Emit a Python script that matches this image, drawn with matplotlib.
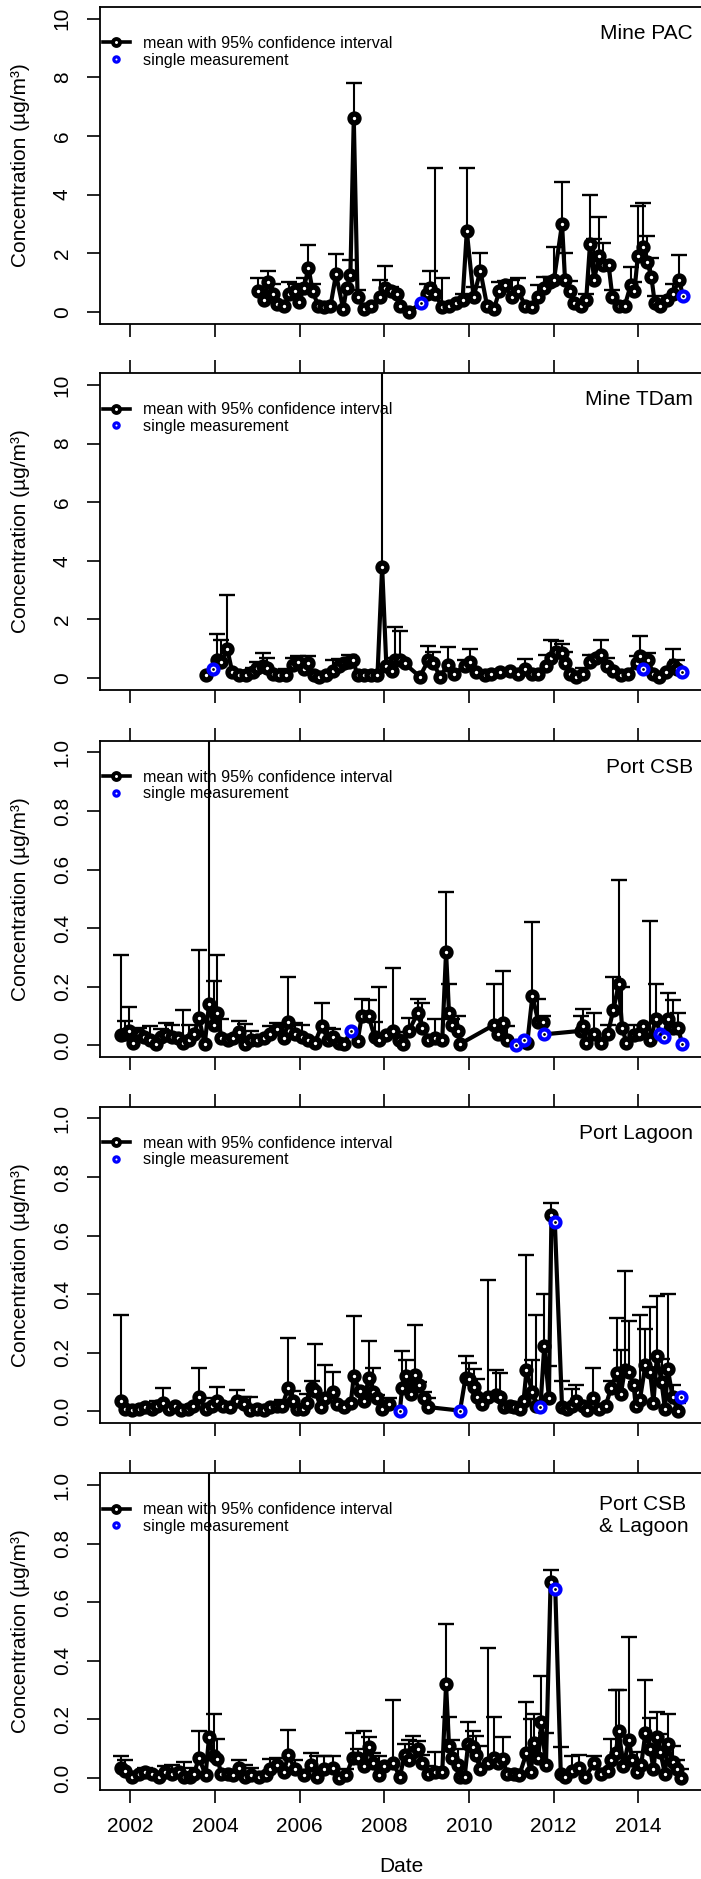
import numpy as np
import matplotlib
matplotlib.use("Agg")
import matplotlib.pyplot as plt
from matplotlib.lines import Line2D

plt.rcParams['font.family'] = ['Liberation Sans', 'DejaVu Sans']
nan = float('nan')

# ---------------- data ----------------
panel_titles = ["Mine PAC", "Mine TDam", "Port CSB", "Port Lagoon", "Port CSB\n& Lagoon"]
year_ticks = [2002, 2004, 2006, 2008, 2010, 2012, 2014]
big_ticks = [0, 2, 4, 6, 8, 10]
small_ticks = [0.0, 0.2, 0.4, 0.6, 0.8, 1.0]

pac_date = [2005.02, 2005.15, 2005.26, 2005.38, 2005.47, 2005.63, 2005.76, 2005.89, 2005.99, 2006.10,
            2006.21, 2006.31, 2006.44, 2006.58, 2006.73, 2006.86, 2007.03, 2007.11, 2007.20, 2007.28,
            2007.37, 2007.53, 2007.68, 2007.90, 2008.02, 2008.16, 2008.30, 2008.37, 2008.58, 2008.87,
            2009.00, 2009.08, 2009.21, 2009.37, 2009.53, 2009.69, 2009.85, 2009.95, 2010.11, 2010.27,
            2010.43, 2010.59, 2010.72, 2010.85, 2011.01, 2011.17, 2011.33, 2011.48, 2011.64, 2011.78,
            2011.91, 2012.01, 2012.20, 2012.27, 2012.38, 2012.49, 2012.65, 2012.77, 2012.86, 2012.96,
            2013.07, 2013.17, 2013.30, 2013.39, 2013.54, 2013.68, 2013.82, 2013.91, 2013.99, 2014.12,
            2014.21, 2014.31, 2014.39, 2014.52, 2014.67, 2014.81, 2014.97, 2015.05]
pac_mean = [0.7, 0.4, 1.0, 0.6, 0.25, 0.2, 0.6, 0.7, 0.35, 0.8,
            1.5, 0.7, 0.2, 0.15, 0.2, 1.28, 0.1, 0.8, 1.25, 6.6,
            0.5, 0.1, 0.2, 0.5, 0.8, 0.7, 0.6, 0.2, 0.0, 0.3,
            0.6, 0.8, 0.6, 0.15, 0.2, 0.3, 0.4, 2.75, 0.5, 1.4,
            0.2, 0.1, 0.7, 0.9, 0.5, 0.7, 0.2, 0.15, 0.5, 0.8,
            1.0, 1.1, 3.0, 1.1, 0.7, 0.3, 0.2, 0.4, 2.3, 1.1,
            1.9, 1.6, 1.6, 0.5, 0.2, 0.2, 0.9, 0.7, 1.9, 2.2,
            1.7, 1.2, 0.3, 0.2, 0.4, 0.6, 1.1, 0.55]
pac_upper = [1.15, nan, 1.4, 0.95, nan, nan, 1.0, 0.95, nan, 1.15,
             2.27, 0.95, nan, nan, nan, 1.97, nan, nan, 1.75, 7.8,
             0.75, nan, nan, 1.1, 1.55, 0.85, nan, nan, nan, nan,
             0.95, 1.4, 4.9, 1.15, nan, nan, 0.6, 4.92, 0.85, 2.0,
             nan, nan, 1.0, 1.05, 1.1, 1.15, nan, nan, 0.9, 1.2,
             1.2, 2.2, 4.42, 2.0, 1.05, nan, nan, 0.6, 3.98, 2.5,
             3.23, 2.35, nan, 0.75, nan, nan, 1.52, 1.0, 3.6, 3.7,
             2.6, 1.85, 0.55, nan, nan, 0.95, 1.95, nan]
pac_single = [2008.87, 2015.05]

tdam_date = [2003.80, 2003.95, 2004.06, 2004.15, 2004.29, 2004.41, 2004.57, 2004.73, 2004.89, 2004.99,
             2005.13, 2005.24, 2005.38, 2005.52, 2005.68, 2005.84, 2005.97, 2006.10, 2006.21, 2006.33,
             2006.47, 2006.63, 2006.79, 2006.92, 2007.05, 2007.16, 2007.26, 2007.37, 2007.53, 2007.68,
             2007.84, 2007.95, 2008.05, 2008.19, 2008.26, 2008.37, 2008.48, 2008.84, 2009.04, 2009.16,
             2009.32, 2009.50, 2009.64, 2009.90, 2010.03, 2010.16, 2010.38, 2010.53, 2010.74, 2010.96,
             2011.17, 2011.33, 2011.48, 2011.64, 2011.82, 2011.94, 2012.06, 2012.20, 2012.27, 2012.38,
             2012.54, 2012.70, 2012.86, 2013.01, 2013.12, 2013.26, 2013.41, 2013.60, 2013.75, 2013.96,
             2014.04, 2014.12, 2014.23, 2014.36, 2014.50, 2014.65, 2014.81, 2014.91, 2015.04]
tdam_mean = [0.1, 0.3, 0.6, 0.55, 1.0, 0.2, 0.1, 0.1, 0.2, 0.35,
             0.4, 0.35, 0.15, 0.1, 0.1, 0.45, 0.55, 0.3, 0.5, 0.1,
             0.05, 0.1, 0.25, 0.4, 0.5, 0.55, 0.6, 0.1, 0.1, 0.1,
             0.1, 3.8, 0.4, 0.25, 0.6, 0.6, 0.5, 0.05, 0.6, 0.5,
             0.05, 0.45, 0.15, 0.4, 0.55, 0.2, 0.1, 0.15, 0.2, 0.25,
             0.15, 0.3, 0.15, 0.15, 0.4, 0.7, 0.9, 0.85, 0.5, 0.15,
             0.05, 0.15, 0.55, 0.7, 0.8, 0.4, 0.25, 0.1, 0.15, 0.5,
             0.75, 0.3, 0.6, 0.15, 0.05, 0.2, 0.45, 0.3, 0.2]
tdam_upper = [nan, nan, 1.5, 1.3, 2.85, nan, nan, nan, 0.35, 0.55,
              0.85, 0.7, nan, nan, 0.3, 0.7, 0.75, nan, 0.75, nan,
              nan, nan, 0.6, 0.65, nan, 0.8, nan, nan, nan, nan,
              nan, 12.0, nan, 0.7, 1.75, 1.6, nan, nan, 1.1, 0.9,
              nan, 1.05, nan, 0.6, 1.0, nan, nan, nan, nan, nan,
              nan, 0.65, nan, nan, 0.8, 1.3, 1.25, 1.15, 0.9, nan,
              nan, 0.35, 0.8, 0.8, 1.3, 0.7, nan, nan, nan, 0.75,
              1.45, nan, 0.85, nan, nan, nan, 1.0, 0.6, nan]
tdam_single = [2003.95, 2014.12, 2015.04]

csb_date = [2001.77, 2001.88, 2001.98, 2002.07, 2002.20, 2002.32, 2002.46, 2002.60, 2002.72, 2002.85,
            2002.99, 2003.12, 2003.25, 2003.38, 2003.51, 2003.62, 2003.76, 2003.86, 2003.97, 2004.06,
            2004.15, 2004.31, 2004.43, 2004.57, 2004.71, 2004.86, 2004.99, 2005.15, 2005.31, 2005.47,
            2005.63, 2005.73, 2005.89, 2006.05, 2006.21, 2006.36, 2006.52, 2006.68, 2006.79, 2006.94,
            2007.05, 2007.21, 2007.37, 2007.47, 2007.63, 2007.77, 2007.87, 2008.05, 2008.21, 2008.35,
            2008.45, 2008.58, 2008.79, 2008.90, 2009.04, 2009.21, 2009.37, 2009.46, 2009.53, 2009.61,
            2009.74, 2009.79, 2010.59, 2010.69, 2010.80, 2010.90, 2011.11, 2011.29, 2011.38, 2011.50,
            2011.64, 2011.75, 2011.78, 2012.65, 2012.70, 2012.77, 2012.96, 2013.12, 2013.28, 2013.41,
            2013.54, 2013.62, 2013.72, 2013.89, 2014.01, 2014.12, 2014.28, 2014.42, 2014.52, 2014.60,
            2014.70, 2014.81, 2014.94, 2015.04]
csb_mean = [0.035, 0.04, 0.05, 0.01, 0.04, 0.03, 0.02, 0.005, 0.03, 0.035,
            0.03, 0.025, 0.01, 0.02, 0.04, 0.095, 0.005, 0.14, 0.07, 0.11,
            0.025, 0.02, 0.025, 0.045, 0.005, 0.02, 0.02, 0.025, 0.04, 0.055,
            0.025, 0.08, 0.04, 0.03, 0.02, 0.01, 0.065, 0.02, 0.03, 0.01,
            0.005, 0.05, 0.015, 0.1, 0.1, 0.03, 0.02, 0.035, 0.05, 0.02,
            0.005, 0.05, 0.11, 0.06, 0.02, 0.025, 0.02, 0.32, 0.11, 0.07,
            0.05, 0.005, 0.07, 0.04, 0.075, 0.02, 0.003, 0.02, 0.01, 0.17,
            0.08, 0.08, 0.038, 0.05, 0.065, 0.01, 0.04, 0.01, 0.04, 0.12,
            0.21, 0.06, 0.01, 0.035, 0.04, 0.065, 0.02, 0.09, 0.04, 0.03,
            0.09, 0.06, 0.06, 0.005]
csb_upper = [0.31, 0.085, 0.13, nan, 0.06, nan, 0.065, nan, 0.055, 0.075,
             0.07, nan, 0.12, 0.07, nan, 0.325, nan, 1.2, 0.22, 0.31,
             0.09, nan, nan, 0.085, 0.072, 0.05, nan, nan, 0.065, 0.075,
             nan, 0.235, 0.075, 0.07, nan, nan, 0.145, 0.06, 0.055, nan,
             nan, nan, nan, 0.16, 0.155, 0.08, 0.2, nan, 0.265, 0.045,
             nan, 0.095, 0.16, 0.145, nan, 0.09, nan, 0.525, 0.21, 0.09,
             0.1, nan, 0.21, nan, 0.255, 0.065, nan, nan, nan, 0.42,
             0.16, 0.1, nan, 0.1, 0.125, nan, 0.11, nan, 0.07, 0.235,
             0.565, 0.2, nan, 0.07, nan, nan, 0.425, 0.21, nan, nan,
             0.18, 0.155, 0.11, nan]
csb_single = [2007.21, 2011.11, 2011.29, 2011.78, 2014.52, 2014.60, 2015.04]

lag_date = [2001.77, 2001.88, 2002.04, 2002.20, 2002.35, 2002.51, 2002.64, 2002.78, 2002.91, 2003.06,
            2003.20, 2003.36, 2003.49, 2003.62, 2003.78, 2003.94, 2004.04, 2004.20, 2004.36, 2004.52,
            2004.68, 2004.83, 2004.99, 2005.15, 2005.31, 2005.47, 2005.59, 2005.73, 2005.84, 2005.94,
            2006.08, 2006.18, 2006.29, 2006.37, 2006.50, 2006.61, 2006.79, 2006.89, 2007.05, 2007.21,
            2007.28, 2007.42, 2007.53, 2007.63, 2007.74, 2007.84, 2007.95, 2008.11, 2008.37, 2008.42,
            2008.51, 2008.63, 2008.72, 2008.82, 2008.93, 2009.04, 2009.79, 2009.92, 2010.01, 2010.11,
            2010.20, 2010.30, 2010.45, 2010.64, 2010.74, 2010.83, 2010.96, 2011.06, 2011.20, 2011.29,
            2011.36, 2011.50, 2011.59, 2011.69, 2011.78, 2011.89, 2011.95, 2012.03, 2012.20, 2012.31,
            2012.43, 2012.54, 2012.70, 2012.80, 2012.94, 2013.07, 2013.23, 2013.36, 2013.49, 2013.59,
            2013.68, 2013.78, 2013.89, 2013.94, 2014.04, 2014.17, 2014.28, 2014.36, 2014.44, 2014.55,
            2014.63, 2014.70, 2014.81, 2014.94, 2015.02]
lag_mean = [0.035, 0.01, 0.005, 0.01, 0.015, 0.01, 0.02, 0.03, 0.01, 0.02,
            0.005, 0.01, 0.02, 0.05, 0.01, 0.02, 0.035, 0.02, 0.015, 0.035,
            0.025, 0.005, 0.01, 0.005, 0.015, 0.02, 0.02, 0.08, 0.035, 0.01,
            0.01, 0.03, 0.08, 0.07, 0.015, 0.045, 0.065, 0.025, 0.015, 0.03,
            0.12, 0.07, 0.035, 0.115, 0.065, 0.045, 0.01, 0.025, 0.003, 0.08,
            0.12, 0.06, 0.125, 0.09, 0.045, 0.015, 0.003, 0.115, 0.11, 0.085,
            0.05, 0.025, 0.05, 0.055, 0.05, 0.015, 0.02, 0.015, 0.01, 0.035,
            0.14, 0.065, 0.02, 0.015, 0.225, 0.045, 0.67, 0.645, 0.015, 0.01,
            0.02, 0.035, 0.02, 0.005, 0.045, 0.01, 0.02, 0.08, 0.13, 0.06,
            0.14, 0.135, 0.09, 0.02, 0.04, 0.16, 0.135, 0.03, 0.19, 0.1,
            0.01, 0.145, 0.05, 0.0, 0.05]
lag_upper = [0.33, nan, nan, nan, nan, nan, 0.035, 0.08, nan, nan,
             nan, nan, nan, 0.148, nan, 0.045, 0.083, nan, nan, 0.073,
             0.05, 0.05, nan, nan, nan, nan, 0.04, 0.25, 0.07, nan,
             nan, 0.06, 0.105, 0.23, nan, 0.16, 0.135, nan, nan, nan,
             0.325, nan, nan, 0.24, 0.15, 0.055, nan, 0.045, nan, 0.205,
             0.175, 0.125, 0.295, 0.1, 0.065, 0.045, nan, 0.19, 0.165, 0.145,
             0.11, nan, 0.45, 0.14, 0.13, nan, nan, nan, nan, nan,
             0.535, 0.175, 0.33, nan, 0.4, 0.155, 0.71, nan, 0.105, nan,
             0.075, 0.09, nan, nan, 0.148, nan, nan, 0.105, 0.32, 0.21,
             0.48, 0.31, nan, 0.1, 0.33, 0.28, 0.355, nan, 0.395, 0.18,
             nan, 0.4, 0.09, 0.03, nan]
lag_single = [2008.37, 2009.79, 2011.69, 2012.03, 2015.02]

comb_date = [2001.77, 2001.88, 2002.04, 2002.20, 2002.35, 2002.51, 2002.67, 2002.83, 2002.99, 2003.15,
             2003.27, 2003.41, 2003.51, 2003.62, 2003.78, 2003.86, 2003.97, 2004.06, 2004.15, 2004.31,
             2004.43, 2004.57, 2004.71, 2004.86, 2005.05, 2005.20, 2005.31, 2005.47, 2005.63, 2005.73,
             2005.89, 2006.10, 2006.26, 2006.42, 2006.58, 2006.79, 2006.94, 2007.10, 2007.26, 2007.37,
             2007.53, 2007.63, 2007.74, 2007.87, 2008.00, 2008.21, 2008.37, 2008.48, 2008.58, 2008.69,
             2008.79, 2008.90, 2009.04, 2009.21, 2009.37, 2009.46, 2009.53, 2009.61, 2009.74, 2009.79,
             2009.90, 2009.98, 2010.09, 2010.16, 2010.27, 2010.45, 2010.59, 2010.69, 2010.80, 2010.90,
             2011.06, 2011.19, 2011.36, 2011.46, 2011.54, 2011.64, 2011.71, 2011.82, 2011.93, 2012.04,
             2012.17, 2012.27, 2012.43, 2012.59, 2012.75, 2012.96, 2013.12, 2013.28, 2013.36, 2013.47,
             2013.54, 2013.65, 2013.78, 2013.86, 2013.96, 2014.07, 2014.17, 2014.28, 2014.36, 2014.44,
             2014.52, 2014.63, 2014.70, 2014.81, 2014.91, 2015.02]
comb_mean = [0.035, 0.025, 0.005, 0.015, 0.02, 0.015, 0.005, 0.02, 0.015, 0.02,
             0.005, 0.005, 0.015, 0.07, 0.01, 0.14, 0.075, 0.065, 0.015, 0.015,
             0.01, 0.035, 0.005, 0.01, 0.005, 0.01, 0.03, 0.045, 0.02, 0.08,
             0.03, 0.01, 0.045, 0.005, 0.03, 0.035, 0.0, 0.01, 0.07, 0.07,
             0.04, 0.105, 0.05, 0.01, 0.04, 0.05, 0.005, 0.08, 0.06, 0.09,
             0.1, 0.05, 0.015, 0.02, 0.02, 0.32, 0.11, 0.07, 0.045, 0.005,
             0.005, 0.115, 0.105, 0.08, 0.03, 0.05, 0.07, 0.05, 0.065, 0.015,
             0.015, 0.01, 0.085, 0.02, 0.12, 0.07, 0.19, 0.045, 0.67, 0.645,
             0.015, 0.005, 0.025, 0.035, 0.005, 0.05, 0.015, 0.025, 0.06, 0.085,
             0.16, 0.04, 0.13, 0.06, 0.02, 0.045, 0.155, 0.1, 0.03, 0.14,
             0.09, 0.015, 0.115, 0.055, 0.03, 0.0]
comb_upper = [0.075, 0.06, nan, nan, 0.035, nan, nan, 0.04, 0.045, nan,
              0.055, 0.035, nan, 0.16, nan, 1.2, 0.22, 0.135, nan, nan,
              nan, 0.06, 0.045, 0.035, nan, nan, 0.065, 0.07, nan, 0.165,
              0.06, nan, 0.085, 0.075, 0.075, 0.075, nan, 0.03, 0.155, 0.1,
              0.16, 0.14, 0.085, 0.075, nan, 0.265, nan, 0.115, 0.13, 0.145,
              0.125, 0.08, 0.04, 0.09, nan, 0.525, 0.21, 0.13, 0.1, nan,
              nan, 0.19, 0.16, 0.145, 0.11, 0.445, 0.21, nan, 0.14, nan,
              nan, nan, 0.26, 0.2, 0.22, nan, 0.35, 0.155, 0.71, nan,
              0.105, nan, 0.075, 0.08, nan, 0.075, nan, nan, 0.135, 0.3,
              0.3, nan, 0.48, nan, 0.09, nan, 0.335, 0.205, nan, 0.225,
              0.15, nan, 0.22, 0.11, 0.06, 0.03]
comb_single = [2012.04]

panels = [
    (pac_date, pac_mean, pac_upper, pac_single, big_ticks, (-0.4, 10.4)),
    (tdam_date, tdam_mean, tdam_upper, tdam_single, big_ticks, (-0.4, 10.4)),
    (csb_date, csb_mean, csb_upper, csb_single, small_ticks, (-0.04, 1.04)),
    (lag_date, lag_mean, lag_upper, lag_single, small_ticks, (-0.04, 1.04)),
    (comb_date, comb_mean, comb_upper, comb_single, small_ticks, (-0.04, 1.04)),
]

# ---------------- layout ----------------
W, H = 701, 1879
fig = plt.figure(figsize=(W / 100, H / 100), dpi=100)
tops = [7, 373.3, 740.7, 1106.7, 1473.3]
box_h = 316.5
left_px, right_px = 100, 703
px = 0.72  # points per pixel at 100 dpi

for i, (d, m, u, single, yt, ylim) in enumerate(panels):
    top = tops[i]
    ax = fig.add_axes([left_px / W, 1 - (top + box_h) / H, (right_px - left_px) / W, box_h / H])
    d = np.array(d); m = np.array(m); u = np.array(u)
    is_single = np.isin(d, np.array(single))
    has_ci = ~np.isnan(u)

    ax.vlines(d[has_ci], m[has_ci], u[has_ci], color='black', lw=1.5, zorder=2)
    ax.plot(d[has_ci], u[has_ci], ls='none', marker='_', ms=16 * px, mew=1.7, color='black', zorder=2)
    ax.plot(d, m, color='black', lw=3.0, zorder=3, solid_joinstyle='round')
    ax.plot(d[~is_single], m[~is_single], ls='none', marker='o', ms=6.4, mew=3.9,
            mec='black', mfc='white', zorder=4)
    ax.plot(d[is_single], m[is_single], ls='none', marker='o', ms=7.2, mew=3.0,
            mec='#0000ff', mfc='white', zorder=5)
    ax.plot(d[is_single], m[is_single], ls='none', marker='o', ms=2.0, mew=0,
            mfc='black', zorder=6)

    ax.set_xlim(2001.285, 2015.53)
    ax.set_ylim(*ylim)
    ax.set_xticks(year_ticks)
    ax.set_yticks(yt)
    if yt is small_ticks:
        ax.set_yticklabels(["%.1f" % v for v in yt])
    else:
        ax.set_yticklabels(["%d" % v for v in yt])
    for lbl in ax.get_yticklabels():
        lbl.set_rotation(90)
        lbl.set_va('center')
    ax.tick_params(axis='both', direction='out', length=13 * px, width=1.2, labelsize=15)
    ax.tick_params(axis='y', pad=11)
    ax.tick_params(axis='x', top=(i > 0), labeltop=False, labelbottom=(i == 4), pad=10)
    for s in ax.spines.values():
        s.set_linewidth(1.3)

    # panel title
    if i == 4:
        ax.text((599 - left_px) / (right_px - left_px), 1 - 42 / box_h, panel_titles[i],
                transform=ax.transAxes, ha='left', va='center', fontsize=15, linespacing=1.2)
    else:
        ax.text((693 - left_px) / (right_px - left_px), 1 - 26.5 / box_h, panel_titles[i],
                transform=ax.transAxes, ha='right', va='center', fontsize=15)

    # legend
    h1 = Line2D([], [], color='black', lw=2.6, marker='o', ms=5.0, mew=2.8, mec='black', mfc='white')
    h2 = Line2D([], [], ls='none', marker='o', ms=3.8, mew=2.3, mec='#0000ff', mfc='white')
    ax.legend([h1, h2], ["mean with 95% confidence interval", "single measurement"],
              loc='upper left', bbox_to_anchor=(3 / 603, 1 - 29 / box_h), frameon=False,
              fontsize=11.6, handlelength=1.65, handletextpad=0.85, borderpad=0,
              borderaxespad=0, labelspacing=0.1)

    # y label
    fig.text(21 / W, 1 - (top + box_h / 2) / H, "Concentration (µg/m³)", rotation=90,
             ha='center', va='center', fontsize=15)

fig.text(401 / W, 1 - 1866 / H, "Date", ha='center', va='center', fontsize=15)

fig.savefig("out.png", dpi=100)
